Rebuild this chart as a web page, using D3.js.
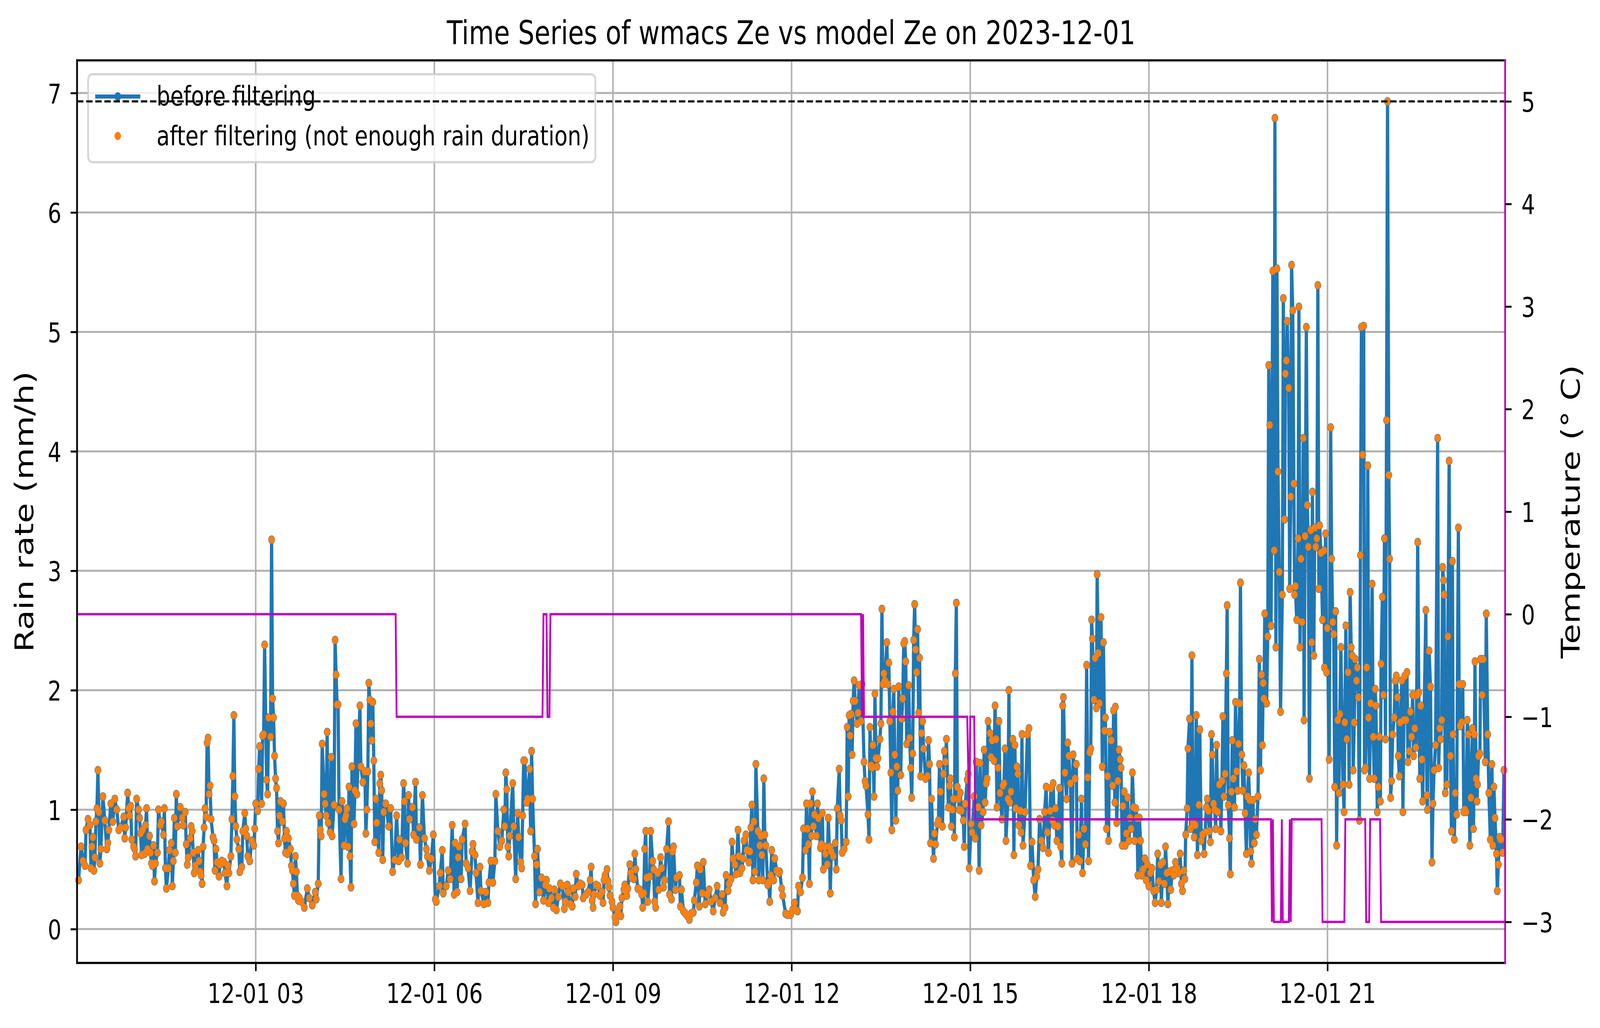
<!DOCTYPE html>
<html>
<head>
<meta charset="utf-8">
<script src="https://cdn.jsdelivr.net/npm/d3@7"></script>
<style>
  html, body { margin: 0; padding: 0; width: 100%; height: 100%; overflow: hidden; background: #fff; }
  svg { display: block; width: 100vw; height: 100vh; }
  text { font-family: "DejaVu Sans", sans-serif; }
</style>
</head>
<body>
<script>
// rain rate readings, [minutes after 00:00, mm/h]
var rainPoints = [
  // 00:00 - 03:50
  [1.5,.41],[4,.69],[6,.57],[8,.53],[9,.83],[11,.92],[13,.87],[14,.51],[15,.69],[16,.77],[17,.49],[18,.60],[19,.90],[20,1.01],[21,1.33],[22,.98],[23,.55],[24,.67],[26,1.11],[28,.91],
  [30,.67],[31,.72],[32,.83],[34,1.05],[36,.90],[38,1.09],[40,1.00],[42,.83],[44,.85],[47,.94],[48,.76],[49,.85],[51,1.14],[52,1.01],[53,.95],[54,1.03],[55,.75],[57,.69],[58,.67],[59,.61],
  [60,1.09],[62,1.00],[63,.93],[64,.80],[65,.62],[66,.83],[68,.63],[69,.87],[70,1.01],[71,.67],[73,.78],[74,.64],[75,.55],[76,.53],[77,.70],[78,.40],[79,.55],[81,.64],[82,1.00],[84,.87],
  [85,.90],[87,.79],[88,1.01],[89,.51],[90,.34],[92,.51],[93,.66],[95,.72],[96,.36],[97,.57],[98,.93],[99,.64],[100,1.13],[101,.86],[104,1.02],[106,.93],[107,.87],[109,.98],[110,.71],[111,.54],
  [112,.60],[114,.76],[115,.86],[116,.82],[117,.64],[118,.47],[119,.53],[122,.66],[123,.57],[124,.48],[125,.45],[126,.38],[127,.69],[128,.85],[129,1.01],[130,.94],[131,1.56],[132,1.60],[133,1.13],[134,1.20],
  [135,.92],[137,.77],[138,.74],[139,.49],[140,.67],[141,.56],[143,.44],[144,.54],[146,.57],[148,.56],[149,.47],[151,.36],[152,.53],[153,.47],[155,.61],[156,.92],[157,1.28],[158,1.79],[159,1.11],[160,.86],
  [161,.75],[163,.67],[164,.48],[166,.52],[167,.82],[169,.97],[170,.84],[171,.78],[172,.61],[174,.57],[176,.74],[178,.70],[179,.84],[180,1.05],[182,.99],[183,1.34],[184,1.53],[186,1.05],[187,1.62],[188,1.63],
  [189,2.38],[191,1.25],[192,1.13],[193,1.77],[195,1.61],[196,3.26],[197,1.93],[198,1.77],[199,1.45],[200,1.26],[201,1.18],[202,.82],[203,.72],[204,.95],[205,1.07],[207,.90],[208,1.05],[209,.76],[210,.64],[211,.82],
  [212,.63],[213,.76],[215,.67],[216,.53],[217,.49],[218,.38],[219,.28],[220,.61],[221,.48],[222,.28],[223,.24],[224,.26],[226,.23],
  // 03:50 - 07:50
  [229,.18],[232,.34],[234,.26],[237,.20],[240,.31],[241,.25],[243,.38],[244,.95],[245,.83],[246,.78],[247,1.55],[249,1.13],[250,1.05],[251,.95],[252,1.65],[253,.89],[255,.81],[256,1.44],[257,.78],[259,1.04],
  [260,2.42],[261,2.13],[262,1.88],[263,1.88],[264,1.00],[266,.42],[267,1.07],[269,.70],[270,.92],[271,.95],[272,1.01],[273,.69],[274,1.19],[275,.61],[276,.35],[277,1.36],[279,.88],[280,1.16],[281,1.72],[282,1.13],
  [285,1.87],[286,1.36],[288,1.23],[290,1.32],[291,.80],[292,1.00],[293,1.32],[294,2.06],[295,1.92],[296,1.72],[297,1.58],[298,1.90],[299,1.41],[300,.73],[301,1.09],[302,.89],[304,.64],[305,1.22],[306,1.29],[307,1.16],
  [308,.58],[309,.98],[311,1.05],[314,.86],[316,1.01],[318,.48],[320,.58],[322,.95],[324,.57],[325,.75],[327,.60],[329,1.22],[330,1.07],[331,.72],[333,.55],[334,1.12],[335,.92],[338,1.02],[339,.79],[341,1.23],
  [342,.75],[345,.85],[346,.54],[348,1.12],[350,.76],[352,.67],[353,.61],[355,.49],[357,.59],[359,.79],[361,.25],[362,.23],[365,.36],[366,.47],[368,.66],[369,.30],[372,.36],[374,.49],[376,.42],[378,.87],
  [380,.29],[381,.72],[383,.31],[384,.60],[385,.69],[387,.42],[388,.75],[391,.88],[392,.55],[394,.51],[396,.32],[398,.65],[399,.71],[401,.62],[402,.47],[404,.22],[406,.52],[407,.32],[410,.21],[412,.31],
  [414,.22],[415,.39],[417,.57],[419,.39],[421,.57],[422,1.13],[424,.82],[426,.69],[428,.74],[430,1.00],[431,.86],[432,1.31],[433,1.17],[434,.69],[435,.61],[436,.78],[439,1.22],[440,.86],[442,.42],[444,.97],
  [445,.77],[447,.56],[448,.51],[449,.95],[450,1.41],[451,1.41],[453,1.06],[454,1.09],[456,1.34],[457,.82],[458,1.49],[459,1.09],[461,.61],[462,.21],[463,.54],[464,.67],[466,.31],
  // 07:50 - 11:50
  [468,.43],[470,.24],[472,.37],[473,.41],[475,.22],[476,.34],[478,.26],[480,.18],[481,.33],[483,.16],[485,.27],[487,.38],[489,.36],[491,.17],[492,.23],[494,.37],[495,.31],[497,.21],[499,.19],[500,.34],
  [502,.27],[503,.46],[505,.36],[507,.38],[509,.37],[510,.26],[513,.29],[515,.31],[517,.41],[518,.52],[519,.24],[520,.18],[521,.29],[523,.37],[525,.36],[527,.28],[529,.31],[530,.22],[531,.41],[532,.45],
  [534,.50],[535,.40],[536,.35],[537,.28],[539,.23],[540,.18],[542,.10],[543,.06],[545,.14],[547,.19],[548,.11],[549,.26],[551,.33],[552,.37],[554,.28],[555,.34],[557,.54],[558,.47],[559,.43],[561,.42],
  [562,.63],[563,.50],[565,.34],[567,.33],[569,.29],[570,.18],[571,.30],[572,.67],[573,.82],[574,.43],[575,.23],[577,.44],[578,.82],[580,.57],[581,.50],[582,.23],[583,.18],[585,.47],[586,.33],[588,.60],
  [589,.51],[591,.35],[592,.41],[594,.67],[596,.90],[597,.29],[599,.25],[600,.65],[601,.69],[603,.33],[604,.43],[607,.45],[608,.19],[609,.33],[611,.15],[613,.13],[615,.11],[617,.08],[619,.13],[621,.14],
  [622,.24],[624,.39],[625,.53],[627,.19],[628,.50],[630,.30],[631,.56],[633,.21],[635,.29],[637,.33],[639,.23],[641,.15],[643,.26],[645,.36],[648,.22],[650,.29],[651,.14],[653,.18],[654,.45],[656,.32],
  [657,.38],[659,.42],[660,.73],[661,.59],[663,.54],[664,.46],[666,.83],[667,.61],[668,.47],[670,.51],[671,.59],[672,.74],[674,.79],[675,.66],[677,.56],[678,.65],[679,.85],[680,1.04],[681,.41],[682,.90],
  [683,.48],[684,1.38],[686,.82],[687,.41],[688,.70],[689,.78],[690,.62],[691,.41],[692,1.26],[693,.79],[694,.70],[696,.37],[697,.39],[698,.23],[699,.45],[700,.66],[702,.41],[703,.59],[705,.49],[707,.47],
  // 11:50 - 15:50
  [708,.48],[710,.34],[711,.28],[714,.13],[716,.12],[719,.12],[721,.16],[723,.22],[724,.16],[726,.15],[727,.36],[729,.31],[731,.43],[732,.84],[734,.66],[735,1.05],[736,.84],[737,.71],[738,.38],[739,1.05],
  [740,.78],[741,1.15],[742,.86],[743,.96],[745,.78],[746,1.05],[747,.93],[749,.68],[750,.71],[751,.97],[752,.50],[753,.69],[754,.63],[756,.54],[757,.93],[758,.69],[759,.30],[760,.65],[762,.61],[764,.72],
  [765,.50],[766,1.01],[768,1.34],[769,.95],[770,.91],[771,.64],[773,.67],[775,.73],[776,1.69],[777,1.11],[778,1.79],[779,1.62],[780,1.80],[781,1.46],[782,1.91],[783,2.08],[784,1.91],[786,1.72],[787,1.81],[788,2.04],
  [790,1.74],[791,2.05],[793,1.40],[794,1.24],[795,1.20],[797,.96],[798,.75],[799,1.69],[800,1.37],[801,1.35],[802,1.54],[803,1.11],[804,1.97],[805,1.43],[806,1.36],[807,1.43],[809,1.59],[810,1.72],[811,2.68],[812,2.05],
  [813,2.14],[814,2.08],[816,2.40],[817,2.05],[818,2.23],[819,1.74],[820,1.31],[821,.83],[822,1.82],[823,2.01],[824,1.46],[825,.91],[826,1.36],[827,1.16],[828,2.03],[830,1.29],[831,1.76],[832,1.93],[833,2.39],[834,2.41],
  [835,2.24],[836,1.55],[838,2.04],[839,1.60],[840,1.35],[841,1.10],[842,1.47],[843,2.42],[844,2.72],[845,2.34],[846,2.15],[847,2.51],[848,1.81],[849,2.27],[850,1.28],[851,1.64],[852,1.74],[853,1.51],[855,1.26],[857,1.28],
  [858,1.58],[859,1.38],[860,.72],[861,1.09],[863,.59],[864,.80],[865,.71],[867,.88],[868,.91],[869,1.38],[870,1.15],[872,.86],[873,1.30],[874,1.49],[875,1.40],[876,1.59],[878,1.02],[879,1.20],[880,1.26],[881,.86],
  [882,1.00],[883,1.09],[884,.77],[885,2.14],[886,2.73],[887,1.19],[888,1.09],[889,1.00],[890,1.14],[891,.99],[893,.91],[894,.69],[895,1.05],[897,1.25],[898,1.30],[899,.51],[901,.88],[902,.81],[904,1.11],[905,.76],
  [906,1.40],[908,1.02],[909,.49],[910,1.39],[911,.87],[913,.98],[914,1.50],[915,1.06],[916,1.22],[917,1.26],[918,1.74],[920,1.64],[921,1.44],[922,1.58],[924,1.41],[925,1.87],[926,1.59],[927,1.02],[928,1.35],[929,1.74],
  [930,1.14],[932,.92],[933,1.20],[934,1.22],[935,1.51],[936,.74],[938,1.09],[939,2.00],[940,1.06],[941,1.15],[943,1.59],[944,.62],[945,1.54],[946,1.01],[947,1.36],[948,1.30],[949,.87],
  // 15:50 - 19:57
  [950.5,.99],[951.3,.81],[952.1,1.63],[953.2,.70],[955.2,.98],[957.6,1.63],[959.2,1.68],[960.8,.53],[962.3,.73],[963.9,.41],[965.5,.27],[967.1,.44],[968.3,.50],[969.9,.92],[971.8,.74],[973.4,.68],[975,.98],[976.5,1.19],[977.8,.81],[978.9,.64],
  [980.5,.99],[981.3,1.18],[982.9,.91],[983.6,1.22],[984.7,.87],[986,1.01],[987.3,.74],[988.4,.86],[990,1.18],[991.1,.69],[992.3,.55],[993.1,1.87],[993.9,1.94],[995.5,1.31],[997.1,1.09],[998.3,1.56],[999.4,1.45],[1001,1.22],[1002.6,.55],[1003.7,1.46],
  [1005.7,1.26],[1006.9,1.38],[1007.8,.59],[1009.4,.79],[1010.5,.57],[1012.1,1.09],[1013.2,.47],[1014.7,.84],[1016,.71],[1017.3,2.21],[1018.4,1.27],[1019.2,.57],[1020.4,1.48],[1021.5,1.51],[1022.3,2.59],[1023.1,2.43],[1024.7,1.92],[1025.8,2.27],[1027.1,1.85],[1027.9,2.97],
  [1029,2.31],[1030.2,1.89],[1031.8,2.61],[1033.1,1.36],[1034.2,2.40],[1035.3,1.66],[1036.2,1.77],[1037.3,.84],[1038.4,1.28],[1039.4,.74],[1040.5,1.65],[1042.1,1.58],[1043.6,1.20],[1044.4,1.83],[1045.7,1.06],[1046.3,1.86],[1047.6,.89],[1048.8,1.24],[1050,1.50],[1051.1,1.42],
  [1052,1.35],[1053.1,.70],[1053.9,1.03],[1055.2,1.15],[1056.3,.70],[1057.4,.80],[1058.6,1.10],[1059.9,.74],[1061,.93],[1062.1,.84],[1063.4,1.31],[1064.6,1.02],[1065.7,.74],[1066.8,1.01],[1068.1,.93],[1068.9,.45],[1070.5,.93],[1071.6,.74],[1072.8,.45],[1074.4,.50],
  [1076,.59],[1077.3,.41],[1078.4,.54],[1080,.36],[1081.5,.47],[1083.1,.51],[1084.7,.32],[1086.3,.22],[1087.8,.33],[1088.9,.63],[1090.2,.40],[1091.8,.54],[1092.6,.22],[1094.2,.56],[1095.7,.38],[1096.8,.69],[1098.1,.47],[1099.2,.21],[1100.5,.48],[1102.1,.33],
  [1103.6,.49],[1105.2,.45],[1106.8,.56],[1108.4,.51],[1110,.47],[1111.5,.63],[1112.8,.38],[1113.9,.32],[1115.2,.49],[1116.3,.42],[1117.1,.79],[1118.6,1.01],[1119.4,1.51],[1121,1.76],[1122.1,.84],[1123.4,2.29],[1124.6,.89],[1125.7,.77],[1126.8,.87],[1127.8,1.79],
  [1128.9,.62],[1130.5,1.04],[1131.3,1.67],[1132.8,.74],[1134.1,.79],[1135.7,.63],[1136.8,.81],[1137.9,1.02],[1138.8,1.09],[1139.9,.99],[1141.1,.82],[1142,.73],[1143.1,1.63],[1143.9,1.46],[1145.2,1.05],[1146.3,1.00],[1147.4,.84],[1148.3,1.54],[1149.4,.98],[1151,1.21],
  [1152.6,.82],[1153.7,1.24],[1154.6,1.78],[1155.7,1.11],[1156.8,1.30],[1158.1,2.14],[1158.9,2.71],[1160,1.04],[1161.3,.76],[1162.1,.46],[1163.2,1.15],[1164.1,1.58],[1165.2,1.26],[1166.3,1.02],[1167.3,1.90],[1168.4,1.32],[1169.5,1.16],[1170.4,1.55],[1171.5,1.89],[1172.3,2.90],
  [1173.6,1.46],[1174.7,1.16],[1175.8,1.37],[1177,.97],[1178.3,.63],[1179.4,1.11],[1180.5,1.31],[1181.5,1.08],[1182.6,.65],[1183.4,.55],[1184.9,1.08],[1186.2,.72],[1187.3,.92],[1188.4,.79],[1190,1.11],[1191.3,2.26],[1192.5,1.33],[1193.6,2.13],[1194.4,1.54],[1195.2,2.06],
  [1196,1.93],[1196.8,2.64],
  // 19:57 - 21:15
  [1198.7,1.89],[1199.8,2.45],[1200.8,4.72],[1201.8,4.22],[1203.2,2.54],[1204.9,5.51],[1206.3,3.17],[1207,6.79],[1208,2.36],[1209.1,5.53],[1210.1,3.83],[1211.4,2.99],[1212.7,1.82],[1214.5,2.80],[1215.5,5.28],[1216.8,3.43],[1217.6,4.65],[1218.6,4.76],[1219.4,5.09],[1220.9,4.53],
  [1221.9,2.85],[1223,3.62],[1223.8,5.56],[1225,5.18],[1226.1,3.73],[1226.9,2.80],[1227.6,2.87],[1229,2.59],[1230.4,3.27],[1231.2,5.21],[1232.3,2.36],[1233.3,3.10],[1234.3,2.57],[1235.6,4.11],[1236.4,1.75],[1237.4,3.29],[1238.7,5.04],[1239.7,3.55],[1240.7,3.20],[1241.8,1.26],
  [1243.1,3.34],[1244.1,2.40],[1244.8,3.66],[1246.2,2.29],[1247.2,3.36],[1248.2,3.20],[1249.3,3.27],[1250.3,5.39],[1251.3,2.85],[1252.1,3.38],[1253.4,3.15],[1255,2.59],[1256.5,3.17],[1257,2.19],[1258,3.31],[1259.1,2.15],[1259.9,2.52],[1261.7,1.42],[1263.2,4.20],[1264.2,3.10],
  [1265.3,2.57],[1266.3,2.47],[1267.3,1.19],[1268.2,2.66],[1269.2,.70],[1270.4,1.75],[1271.5,1.14],[1272.5,1.80],[1273.5,2.36],
  // 21:15 - 22:36
  [1275.6,1.21],[1276.7,.98],[1277.5,1.73],[1278.5,2.54],[1279.5,1.59],[1280.8,2.15],[1281.8,1.21],[1282.8,2.82],[1283.9,2.36],[1284.9,2.29],[1285.9,1.33],[1287,1.73],[1288,2.26],[1289.2,2.08],[1290.1,2.19],[1291.1,1.94],[1292.1,.91],[1293.2,3.13],[1294.2,5.04],[1295.4,3.97],
  [1296.5,5.05],[1297.3,1.33],[1298.3,1.35],[1299.6,2.19],[1300.6,3.88],[1301.4,1.77],[1302.4,1.26],[1303.5,1.89],[1305,2.89],[1306.1,1.61],[1307.1,1.26],[1308.1,2.01],[1308.8,1.87],[1310.2,.98],[1311.2,1.19],[1312.2,1.61],[1313.3,1.07],[1314,2.22],[1315.3,2.78],[1316.4,1.96],
  [1317.4,3.27],[1318.4,1.59],[1319.5,4.26],[1320.5,6.93],[1321.8,3.80],[1322.6,3.10],[1323.6,1.10],[1324.6,1.24],[1325.7,1.63],[1327.2,1.77],[1328.2,2.08],[1329.3,2.12],[1330.5,1.94],[1331.3,1.45],[1332.4,1.28],[1333.4,1.73],[1334.9,2.08],[1336,.98],[1337,1.75],[1338,2.12],
  [1339.1,1.75],[1340.1,2.15],[1341.1,1.40],[1342.5,1.49],[1343.5,1.82],[1344.7,1.61],[1345.8,1.96],[1346.8,1.45],[1348,1.68],[1349.1,1.52],[1349.9,1.96],[1350.9,3.24],[1352,1.98],[1353,1.26],[1354,1.87],[1355.1,1.42],[1355.9,1.07],
  // 22:36 - 23:59
  [1359.1,2.67],[1360.2,1.12],[1360.7,1.00],[1362.4,2.33],[1363.8,2.03],[1365.3,.56],[1366.3,1.05],[1367.4,1.33],[1368.9,1.54],[1371,4.11],[1372,1.35],[1373.1,1.68],[1374.1,1.59],[1375.1,1.75],[1376.1,3.03],[1376.9,2.92],[1377.5,2.80],[1378.7,1.14],[1380.3,1.21],[1381.3,2.45],
  [1382.6,3.92],[1383.9,1.45],[1384.9,.82],[1385.9,3.08],[1386.5,1.63],[1387.8,.75],[1388.8,1.14],[1390.1,.96],[1391.9,3.36],[1392.6,2.05],[1393.7,1.70],[1395.2,1.73],[1396.3,2.05],[1397.3,.98],[1398.3,1.00],[1399.6,.98],[1400.9,1.75],[1401.9,1.63],[1403.5,.70],[1404.5,1.10],
  [1406.1,1.68],[1407.1,.84],[1408.1,1.63],[1408.6,2.24],[1409.7,1.26],[1410.7,1.07],[1411.2,1.21],[1412.2,1.45],[1413.6,1.47],[1414.3,2.26],[1415.9,1.96],[1416.9,2.26],[1419,1.40],[1420,2.64],[1421.5,1.63],[1422.6,1.14],[1424.1,.75],[1425.7,1.38],[1426.7,.70],[1427.7,1.19],
  [1428.8,.93],[1430.3,.63],[1431.1,.32],[1432.2,.54],[1433.4,.77],[1434.9,.75],[1436.5,.64],[1437.8,1.33]
];

// temperature record, [minutes after 00:00, °C]
var tempPoints = [
  [0,0],[321,0],[322,-1],[469,-1],[470,0],[473,0],[474,-1],[476,-1],[477,0],[790,0],[791,-1],[792,0],[793,-1],
  [897,-1],[899,-2],[900,-1],[904,-1],[905,-2],[1203,-2],[1204,-3],[1205,-2],[1206,-3],[1213,-3],[1214,-2],[1215,-3],
  [1221,-3],[1222,-2],[1223,-3],[1224,-2],[1254,-2],[1255,-3],[1277,-3],[1278,-2],[1298,-2],[1299,-3],[1302,-3],[1303,-2],
  [1313,-2],[1314,-3],[1439,-3]
];

var dayMinutes = [0, 1439];          // time span of the record
var tickHours = [3, 6, 9, 12, 15, 18, 21];
var rainTicks = [0, 1, 2, 3, 4, 5, 6, 7];
var tempTicks = [-3, -2, -1, 0, 1, 2, 3, 4, 5];
var tempRefLine = 5;
var titleText = "Time Series of wmacs Ze vs model Ze on 2023-12-01";
var rainLabel = "Rain rate (mm/h)";
var tempLabel = "Temperature (\u00B0 C)";
var legendLabels = ["before filtering", "after filtering (not enough rain duration)"];

var W = 5211, H = 2631;
var plot = {left: 251, right: 4902, top: 154.5, bottom: 2464.5};
var font = "DejaVu Sans";

var blue = "#1f77b4", orange = "#ff7f0e", magenta = "#bf00bf";

var t0 = new Date(2023, 11, 1, 0, 0, 0);
function minToDate(m) { return new Date(t0.getTime() + m * 60000); }

// the drawing is laid out in a 5211x2631 frame and stretched over the whole window
var svg = d3.select("body").append("svg")
  .attr("viewBox", "0 0 " + W + " " + H)
  .attr("preserveAspectRatio", "none");

svg.append("rect").attr("width", W).attr("height", H).attr("fill", "#fff");

// scales (matplotlib style 5% margins on y)
var x = d3.scaleTime().domain(dayMinutes.map(minToDate)).range([plot.left, plot.right]);

var rExt = d3.extent(rainPoints, function(d) { return d[1]; });
var rPad = (rExt[1] - rExt[0]) * 0.05;
var y = d3.scaleLinear().domain([rExt[0] - rPad, rExt[1] + rPad]).range([plot.bottom, plot.top]);

var tVals = tempPoints.map(function(d) { return d[1]; }).concat([tempRefLine]);
var tExt = d3.extent(tVals);
var tPad = (tExt[1] - tExt[0]) * 0.05;
var y2 = d3.scaleLinear().domain([tExt[0] - tPad, tExt[1] + tPad]).range([plot.bottom, plot.top]);

// grid
var grid = svg.append("g").attr("stroke", "#b0b0b0").attr("stroke-width", 5);
grid.selectAll(".vg").data(tickHours).enter().append("line")
  .attr("x1", function(d) { return x(minToDate(d * 60)); })
  .attr("x2", function(d) { return x(minToDate(d * 60)); })
  .attr("y1", plot.top).attr("y2", plot.bottom);
grid.selectAll(".hg").data(rainTicks).enter().append("line")
  .attr("x1", plot.left).attr("x2", plot.right)
  .attr("y1", function(d) { return y(d); })
  .attr("y2", function(d) { return y(d); });

// rain rate: line with markers, then the filtered points on top
var rainLine = d3.line()
  .x(function(d) { return x(minToDate(d[0])); })
  .y(function(d) { return y(d[1]); });

svg.append("path").datum(rainPoints)
  .attr("d", rainLine)
  .attr("fill", "none").attr("stroke", blue)
  .attr("stroke-width", 10.5).attr("stroke-linejoin", "round");

svg.append("g").selectAll("circle").data(rainPoints).enter().append("circle")
  .attr("cx", function(d) { return x(minToDate(d[0])); })
  .attr("cy", function(d) { return y(d[1]); })
  .attr("r", 11).attr("fill", blue);

svg.append("g").selectAll("circle").data(rainPoints).enter().append("circle")
  .attr("cx", function(d) { return x(minToDate(d[0])); })
  .attr("cy", function(d) { return y(d[1]); })
  .attr("r", 10).attr("fill", orange);

// legend
var lg = svg.append("g");
lg.append("rect")
  .attr("x", 287).attr("y", 190).attr("width", 1652).attr("height", 225)
  .attr("rx", 14).attr("ry", 14)
  .attr("fill", "#fff").attr("fill-opacity", 0.8)
  .attr("stroke", "#cccccc").attr("stroke-opacity", 0.8).attr("stroke-width", 6);
lg.append("line").attr("x1", 310).attr("x2", 457).attr("y1", 247).attr("y2", 247)
  .attr("stroke", blue).attr("stroke-width", 10.5);
lg.append("circle").attr("cx", 383.5).attr("cy", 247).attr("r", 11).attr("fill", blue);
lg.append("circle").attr("cx", 383.5).attr("cy", 348).attr("r", 10.5).attr("fill", orange);
lg.selectAll("text").data(legendLabels).enter().append("text")
  .attr("x", 510).attr("y", function(d, i) { return 270 + i * 102; })
  .attr("font-size", 70).attr("font-family", font).attr("fill", "#000")
  .text(function(d) { return d; });

// temperature (twin axis), drawn above the first axes
var tempLine = d3.line()
  .x(function(d) { return x(minToDate(d[0])); })
  .y(function(d) { return y2(d[1]); });

svg.append("path").datum(tempPoints)
  .attr("d", tempLine)
  .attr("fill", "none").attr("stroke", magenta).attr("stroke-width", 6);

svg.append("line")
  .attr("x1", plot.left).attr("x2", plot.right)
  .attr("y1", y2(tempRefLine)).attr("y2", y2(tempRefLine))
  .attr("stroke", "#000").attr("stroke-width", 5.6)
  .attr("stroke-dasharray", "20.7,9");

// spines
var sp = svg.append("g").attr("stroke-width", 5.6).attr("stroke-linecap", "square");
sp.append("line").attr("x1", plot.left).attr("x2", plot.right).attr("y1", plot.top).attr("y2", plot.top).attr("stroke", "#000");
sp.append("line").attr("x1", plot.left).attr("x2", plot.right).attr("y1", plot.bottom).attr("y2", plot.bottom).attr("stroke", "#000");
sp.append("line").attr("x1", plot.left).attr("x2", plot.left).attr("y1", plot.top).attr("y2", plot.bottom).attr("stroke", "#000");
sp.append("line").attr("x1", plot.right).attr("x2", plot.right).attr("y1", plot.top).attr("y2", plot.bottom).attr("stroke", magenta);

// axes
function styleAxis(g) {
  g.select(".domain").remove();
  g.attr("font-size", 70).attr("font-family", font);
  g.selectAll(".tick line").attr("stroke", "#000").attr("stroke-width", 5);
  g.selectAll(".tick text").attr("fill", "#000");
}

svg.append("g")
  .attr("transform", "translate(0," + plot.bottom + ")")
  .call(d3.axisBottom(x)
    .tickValues(tickHours.map(function(h) { return minToDate(h * 60); }))
    .tickFormat(d3.timeFormat("%m-%d %H"))
    .tickSize(21).tickPadding(32))
  .call(styleAxis);

svg.append("g")
  .attr("transform", "translate(" + plot.left + ",0)")
  .call(d3.axisLeft(y).tickValues(rainTicks).tickFormat(d3.format("d")).tickSize(21).tickPadding(30))
  .call(styleAxis)
  .selectAll(".tick text").attr("dy", "0.37em");

svg.append("g")
  .attr("transform", "translate(" + plot.right + ",0)")
  .call(d3.axisRight(y2).tickValues(tempTicks).tickFormat(d3.format("d")).tickSize(21).tickPadding(32))
  .call(styleAxis)
  .selectAll(".tick text").attr("dy", "0.37em");

// title and axis labels
svg.append("text")
  .attr("x", (plot.left + plot.right) / 2).attr("y", 113)
  .attr("text-anchor", "middle")
  .attr("font-size", 84).attr("font-family", font)
  .text(titleText);

svg.append("text")
  .attr("transform", "translate(108," + (plot.top + plot.bottom) / 2 + ") rotate(-90)")
  .attr("text-anchor", "middle")
  .attr("font-size", 84).attr("font-family", font)
  .text(rainLabel);

svg.append("text")
  .attr("transform", "translate(5145," + (plot.top + plot.bottom) / 2 + ") rotate(-90)")
  .attr("text-anchor", "middle")
  .attr("font-size", 84).attr("font-family", font)
  .text(tempLabel);
</script>
</body>
</html>
